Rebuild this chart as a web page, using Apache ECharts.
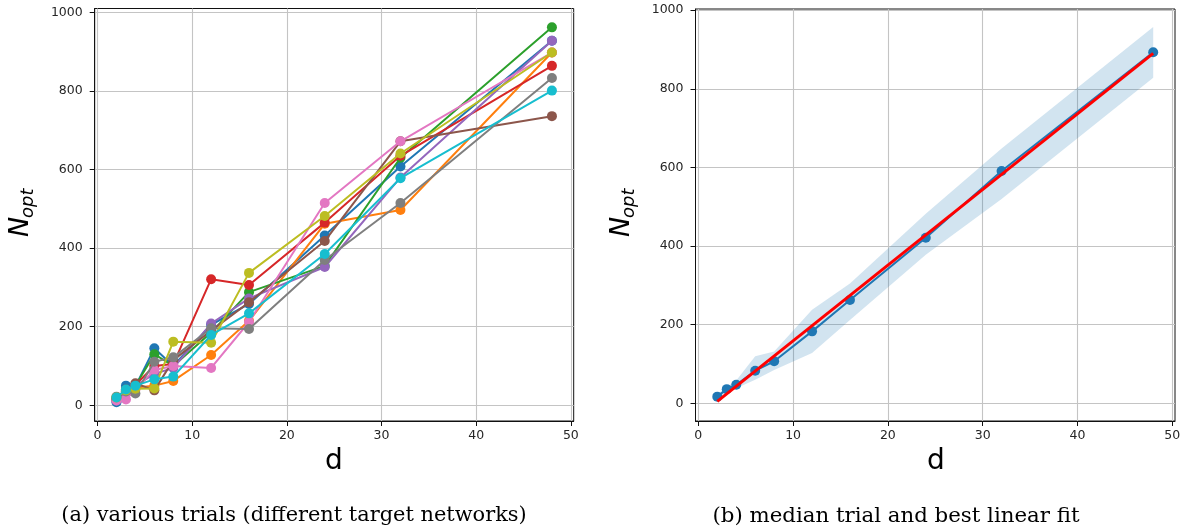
<!DOCTYPE html>
<html><head><meta charset="utf-8">
<script src="https://cdn.jsdelivr.net/npm/echarts@6/dist/echarts.min.js"></script>
<style>html,body{margin:0;padding:0;background:#fff}#c{width:1187px;height:532px}</style>
</head><body><div id="c"></div>
<script>
// ---- data ----
const dValues = [2, 3, 4, 6, 8, 12, 16, 24, 32, 48];
const trialBlue   = [8, 50, 48, 145, 100, 205, 258, 432, 608, 928];
const trialOrange = [20, 30, 45, 50, 62, 128, 215, 462, 497, 898];
const trialGreen  = [18, 35, 50, 130, 100, 185, 288, 355, 630, 962];
const trialRed    = [15, 38, 52, 100, 105, 321, 306, 465, 635, 864];
const trialPurple = [12, 35, 50, 80, 95, 208, 272, 352, 580, 928];
const trialBrown  = [15, 40, 56, 38, 115, 190, 262, 418, 672, 736];
const trialPink   = [12, 15, 40, 90, 100, 95, 212, 515, 672, 898];
const trialGray   = [22, 35, 30, 111, 122, 196, 194, 370, 515, 833];
const trialOlive  = [20, 38, 42, 43, 162, 159, 337, 482, 641, 898];
const trialCyan   = [20, 40, 50, 66, 73, 179, 234, 385, 578, 801];
const trialColors = ['#1f77b4','#ff7f0e','#2ca02c','#d62728','#9467bd','#8c564b','#e377c2','#7f7f7f','#bcbd22','#17becf'];
const trials = [trialBlue, trialOrange, trialGreen, trialRed, trialPurple, trialBrown, trialPink, trialGray, trialOlive, trialCyan];

const medianTrial = [17, 36, 47, 83, 107, 183, 263, 421, 591, 893];
const bandLow  = [10, 25, 38, 60, 85, 128, 212, 378, 520, 828];
const bandHigh = [22, 42, 58, 120, 132, 238, 305, 482, 648, 957];
const fitD = [2, 48];
const fitN = [5, 890];

const xTicks = [0, 10, 20, 30, 40, 50];
const yTicks = [0, 200, 400, 600, 800, 1000];

// ---- chart ----
const chart = echarts.init(document.getElementById('c'), null, {renderer: 'canvas'});
const pairs = (xs, ys) => xs.map((x, i) => [x, ys[i]]);
const tickFont = 'DejaVu Sans';
const plain = v => String(v);
function xAx(gi) {
  return {
    type: 'value', gridIndex: gi, min: -0.3, max: 50.3,
    axisLine: {show: true, onZero: false, lineStyle: {color: '#111', width: 1}},
    axisTick: {show: true, customValues: xTicks, length: 5, lineStyle: {color: '#111', width: 1}},
    axisLabel: {customValues: xTicks, formatter: plain, fontSize: 12.5, fontFamily: tickFont, color: '#262626', margin: 8},
    splitLine: {show: true, lineStyle: {color: '#c4c4c4', width: 1.1}}
  };
}
function yAx(gi, mn, mx) {
  return {
    type: 'value', gridIndex: gi, min: mn, max: mx,
    axisLine: {show: true, onZero: false, lineStyle: {color: '#111', width: 1}},
    axisTick: {show: true, customValues: yTicks, length: 5, lineStyle: {color: '#111', width: 1}},
    axisLabel: {customValues: yTicks, formatter: plain, fontSize: 12.5, fontFamily: tickFont, color: '#262626', margin: 12},
    splitLine: {show: true, lineStyle: {color: '#c4c4c4', width: 1.1}}
  };
}

const series = trials.map((arr, k) => ({
  type: 'line', xAxisIndex: 0, yAxisIndex: 0,
  data: pairs(dValues, arr),
  symbol: 'circle', symbolSize: 10, showSymbol: true,
  color: trialColors[k],
  lineStyle: {width: 2, color: trialColors[k]},
  itemStyle: {color: trialColors[k]},
  emphasis: {disabled: true}, animation: false, z: 2 + k
}));

series.push({
  type: 'custom', xAxisIndex: 1, yAxisIndex: 1, silent: true, clip: false, z: 1,
  data: [[dValues[0], bandLow[0]]],
  renderItem: function (params, api) {
    const pts = [];
    for (let i = 0; i < dValues.length; i++) pts.push(api.coord([dValues[i], bandHigh[i]]));
    for (let i = dValues.length - 1; i >= 0; i--) pts.push(api.coord([dValues[i], bandLow[i]]));
    return {type: 'polygon', shape: {points: pts}, style: {fill: 'rgba(31,119,180,0.2)'}};
  },
  animation: false
});
series.push({
  type: 'line', xAxisIndex: 1, yAxisIndex: 1,
  data: pairs(dValues, medianTrial),
  symbol: 'circle', symbolSize: 10, color: '#1f77b4',
  lineStyle: {width: 2, color: '#1f77b4'}, itemStyle: {color: '#1f77b4'},
  emphasis: {disabled: true}, animation: false, z: 3
});
series.push({
  type: 'line', xAxisIndex: 1, yAxisIndex: 1,
  data: pairs(fitD, fitN),
  symbol: 'none', color: '#ff0000',
  lineStyle: {width: 3, color: '#ff0000'},
  emphasis: {disabled: true}, animation: false, z: 4
});

function nopt(x) {
  return {
    type: 'group', x: x, y: 237, rotation: Math.PI / 2,
    children: [
      {type: 'text', x: 0, y: 0, style: {text: 'N', font: 'italic 27px "DejaVu Sans"', fill: '#000', align: 'left', textAlign: 'left', verticalAlign: 'middle', textVerticalAlign: 'middle'}},
      {type: 'text', x: 19, y: 7, style: {text: 'opt', font: 'italic 18px "DejaVu Sans"', fill: '#000', align: 'left', textAlign: 'left', verticalAlign: 'middle', textVerticalAlign: 'middle'}}
    ]
  };
}
function txt(x, y, s, font) {
  return {type: 'text', x: x, y: y, style: {text: s, font: font, fill: '#000', align: 'center', textAlign: 'center', verticalAlign: 'middle', textVerticalAlign: 'middle'}};
}

chart.setOption({
  backgroundColor: '#fff',
  animation: false,
  grid: [
    {left: 94.7, top: 8.5, width: 479, height: 412.5, show: true, borderColor: '#111', borderWidth: 1, backgroundColor: 'transparent'},
    {left: 695.5, top: 9, width: 479.5, height: 412, show: true, borderColor: '#111', borderWidth: 1, backgroundColor: 'transparent'}
  ],
  xAxis: [xAx(0), xAx(1)],
  yAxis: [yAx(0, -40, 1010), yAx(1, -45, 1003)],
  series: series,
  graphic: [
    nopt(21), nopt(622),
    txt(334, 462, 'd', '28px "DejaVu Sans"'),
    txt(936, 462, 'd', '28px "DejaVu Sans"'),
    txt(294, 516, '(a) various trials (different target networks)', '20.9px "DejaVu Serif"'),
    txt(896, 516, '(b) median trial and best linear fit', '21.3px "DejaVu Serif"')
  ]
});
</script></body></html>
